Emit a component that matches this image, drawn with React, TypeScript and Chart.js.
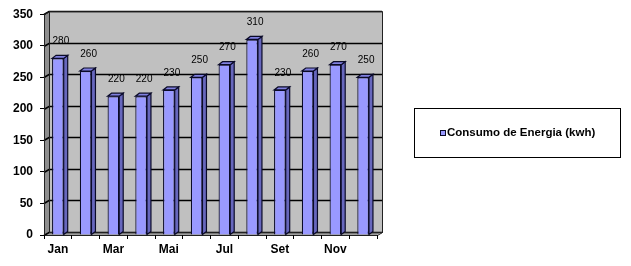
import React, { useEffect, useRef } from 'react';
import { Chart, registerables } from 'chart.js';

Chart.register(...registerables);

const months = ['Jan', 'Fev', 'Mar', 'Abr', 'Mai', 'Jun', 'Jul', 'Ago', 'Set', 'Out', 'Nov', 'Dez'];
const consumo = [280, 260, 220, 220, 230, 250, 270, 310, 230, 260, 270, 250];
const seriesLabel = 'Consumo de Energia (kwh)';
const yMin = 0;
const yMax = 350;
const yStep = 50;

const FONT = '"Liberation Sans", Arial, Helvetica, sans-serif';
const WALL_DX = 5;
const WALL_DY = -3;
const BAR_DX = 4;
const BAR_DY = 3;
const BAR_FRONT = '#9999FF';
const BAR_SIDE = '#6767BD';
const BAR_TOP = '#8080E0';
const BAR_EDGE = '#0A0A28';

const wallsPlugin = {
  id: 'walls3d',
  beforeDraw(chart: any) {
    const { ctx, chartArea } = chart;
    const { left, right, top, bottom } = chartArea;
    const yScale = chart.scales.y;
    ctx.save();
    ctx.fillStyle = '#ffffff';
    ctx.fillRect(0, 0, chart.width, chart.height);
    // back wall
    ctx.fillStyle = '#C0C0C0';
    ctx.fillRect(left + WALL_DX, top + WALL_DY, right - left, bottom - top);
    // side wall
    ctx.fillStyle = '#8E8E8E';
    ctx.beginPath();
    ctx.moveTo(left, top);
    ctx.lineTo(left + WALL_DX, top + WALL_DY);
    ctx.lineTo(left + WALL_DX, bottom + WALL_DY);
    ctx.lineTo(left, bottom);
    ctx.closePath();
    ctx.fill();
    // floor
    ctx.fillStyle = '#A0A0A0';
    ctx.beginPath();
    ctx.moveTo(left, bottom);
    ctx.lineTo(left + WALL_DX, bottom + WALL_DY);
    ctx.lineTo(right + WALL_DX, bottom + WALL_DY);
    ctx.lineTo(right, bottom);
    ctx.closePath();
    ctx.fill();
    // gridlines
    ctx.strokeStyle = '#000000';
    ctx.lineWidth = 1.6;
    yScale.ticks.forEach((t: any) => {
      const y = Math.round(yScale.getPixelForValue(t.value)) + 0.5;
      ctx.beginPath();
      ctx.moveTo(left, y);
      ctx.lineTo(left + WALL_DX, y + WALL_DY);
      ctx.lineTo(right + WALL_DX, y + WALL_DY);
      ctx.stroke();
    });
    // outlines
    ctx.strokeStyle = '#222222';
    ctx.lineWidth = 1;
    ctx.strokeRect(left + WALL_DX + 0.5, top + WALL_DY + 0.5, right - left, bottom - top);
    ctx.beginPath();
    ctx.moveTo(left + 0.5, bottom + 0.5);
    ctx.lineTo(left + 0.5, top + 0.5);
    ctx.lineTo(left + WALL_DX + 0.5, top + WALL_DY + 0.5);
    ctx.stroke();
    ctx.beginPath();
    ctx.moveTo(left + 0.5, bottom + 0.5);
    ctx.lineTo(right + 0.5, bottom + 0.5);
    ctx.lineTo(right + WALL_DX + 0.5, bottom + WALL_DY + 0.5);
    ctx.stroke();
    ctx.restore();
  },
  afterDatasetsDraw(chart: any) {
    const { ctx } = chart;
    const meta = chart.getDatasetMeta(0);
    const data = chart.data.datasets[0].data;
    ctx.save();
    meta.data.forEach((bar: any, i: number) => {
      const { x, y, base, width } = bar.getProps(['x', 'y', 'base', 'width'], true);
      const l = x - width / 2;
      const r = x + width / 2;
      // side face
      ctx.fillStyle = BAR_SIDE;
      ctx.beginPath();
      ctx.moveTo(r, y);
      ctx.lineTo(r + BAR_DX, y - BAR_DY);
      ctx.lineTo(r + BAR_DX, base - BAR_DY);
      ctx.lineTo(r, base);
      ctx.closePath();
      ctx.fill();
      ctx.strokeStyle = BAR_EDGE;
      ctx.lineWidth = 1.2;
      ctx.stroke();
      // top face
      ctx.fillStyle = BAR_TOP;
      ctx.beginPath();
      ctx.moveTo(l, y);
      ctx.lineTo(l + BAR_DX, y - BAR_DY);
      ctx.lineTo(r + BAR_DX, y - BAR_DY);
      ctx.lineTo(r, y);
      ctx.closePath();
      ctx.fill();
      ctx.stroke();
      // label
      ctx.fillStyle = '#000000';
      ctx.font = `10px ${FONT}`;
      ctx.textAlign = 'center';
      ctx.textBaseline = 'middle';
      ctx.fillText(String(data[i]), x + 3, y - 17);
    });
    ctx.restore();
  },
  afterDraw(chart: any) {
    const { ctx, chartArea } = chart;
    const ds = chart.data.datasets[0];
    const bx = chartArea.right + 37;
    const by = 108;
    const bw = 206;
    const bh = 49;
    ctx.save();
    ctx.fillStyle = '#ffffff';
    ctx.fillRect(bx, by, bw, bh);
    ctx.strokeStyle = '#000000';
    ctx.lineWidth = 1;
    ctx.strokeRect(bx + 0.5, by + 0.5, bw, bh);
    const cy = by + bh / 2 + 0.5;
    ctx.fillStyle = ds.backgroundColor;
    ctx.fillRect(bx + 26, cy - 3, 5, 5);
    ctx.strokeStyle = BAR_EDGE;
    ctx.strokeRect(bx + 26.5, cy - 2.5, 5, 5);
    ctx.fillStyle = '#000000';
    ctx.font = `bold 11.5px ${FONT}`;
    ctx.textAlign = 'left';
    ctx.textBaseline = 'middle';
    ctx.fillText(ds.label, bx + 33, cy);
    ctx.restore();
  },
};

export default function App() {
  const canvasRef = useRef<HTMLCanvasElement | null>(null);

  useEffect(() => {
    if (!canvasRef.current) return;
    const chart = new Chart(canvasRef.current, {
      type: 'bar',
      data: {
        labels: months,
        datasets: [
          {
            label: seriesLabel,
            data: consumo,
            backgroundColor: BAR_FRONT,
            borderColor: BAR_EDGE,
            borderWidth: 1.2,
            barPercentage: 0.42,
            categoryPercentage: 1,
          },
        ],
      },
      options: {
        animation: false,
        responsive: true,
        maintainAspectRatio: false,
        layout: { padding: { top: 14, right: 254, left: 0, bottom: 0 } },
        plugins: {
          legend: { display: false },
          tooltip: { enabled: false },
        },
        scales: {
          x: {
            offset: true,
            grid: { offset: true, drawOnChartArea: false, drawTicks: true, tickLength: 4, color: '#000000' },
            border: { display: false },
            ticks: {
              autoSkip: false,
              maxRotation: 0,
              padding: 3,
              color: '#000000',
              font: { family: FONT, size: 12, weight: 'bold' },
              callback: (_v: any, i: number) => (i % 2 === 0 ? months[i] : ''),
            },
            afterFit: (s: any) => {
              s.height = 31;
            },
          },
          y: {
            min: yMin,
            max: yMax,
            grid: { drawOnChartArea: false, drawTicks: true, tickLength: 4, color: '#000000' },
            border: { display: false },
            ticks: {
              stepSize: yStep,
              padding: 7,
              color: '#000000',
              font: { family: FONT, size: 12, weight: 'bold' },
            },
            afterFit: (s: any) => {
              s.width = 44;
            },
          },
        },
      },
      plugins: [wallsPlugin],
    });
    return () => chart.destroy();
  }, []);

  return (
    <div style={{ position: 'absolute', left: 0, top: 0, width: 631, height: 266 }}>
      <canvas ref={canvasRef} />
    </div>
  );
}
